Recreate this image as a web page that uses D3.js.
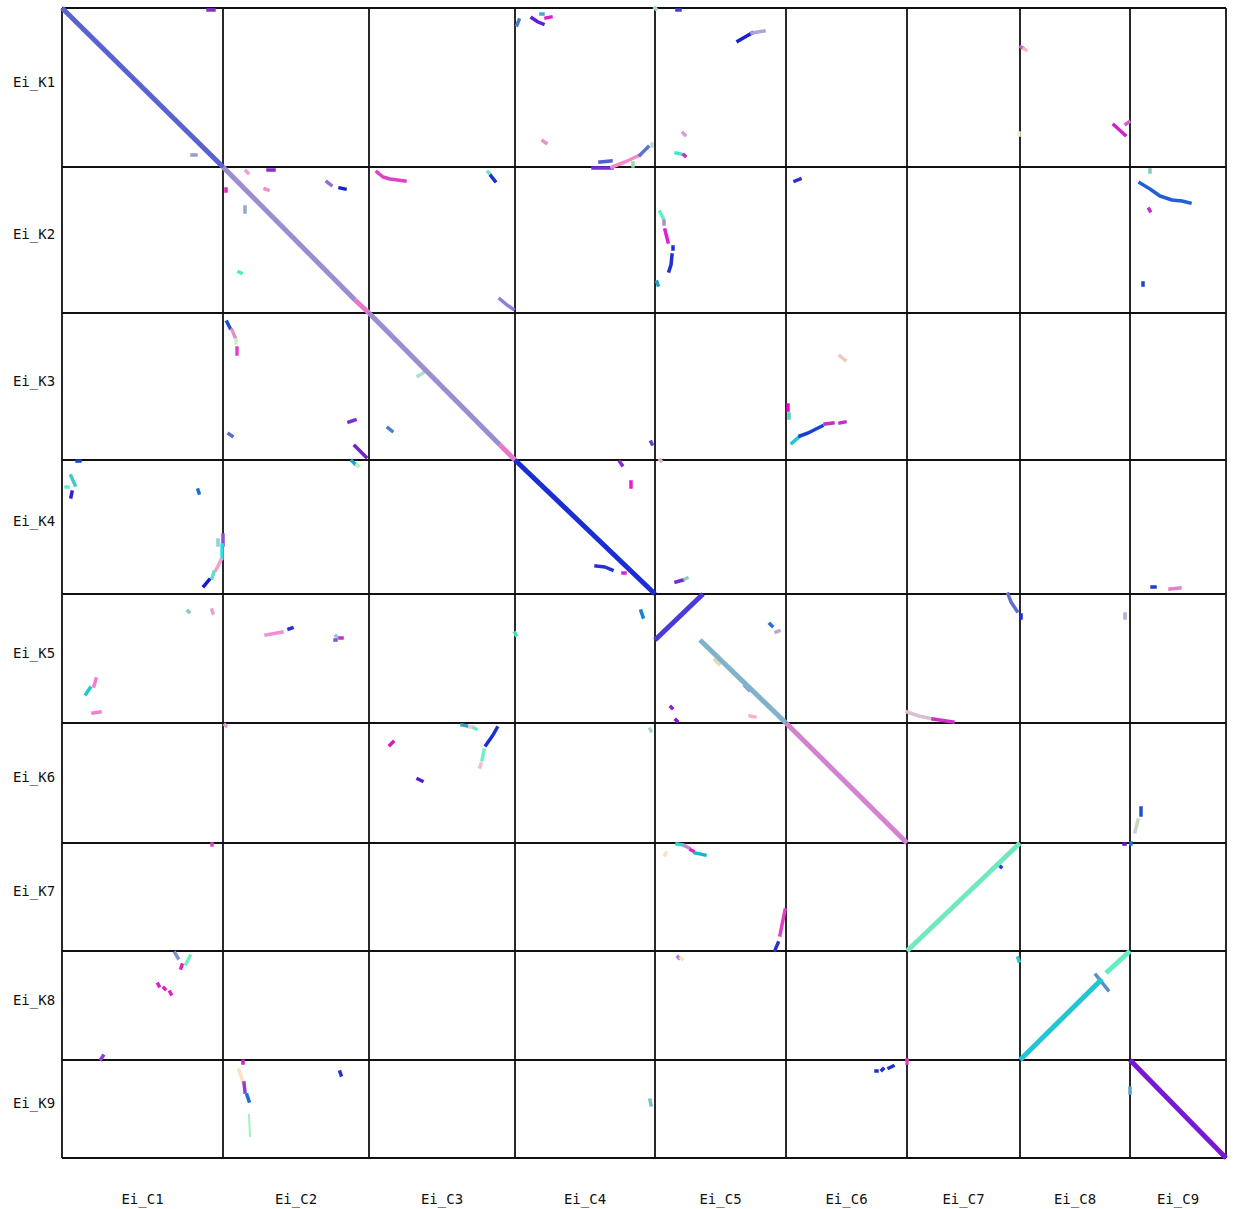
<!DOCTYPE html>
<html>
<head>
<meta charset="utf-8">
<script src="https://cdn.jsdelivr.net/npm/d3@7"></script>
<style>
  body { margin: 0; background: #fff; }
  text { font-family: "DejaVu Sans Mono", monospace; font-size: 14px; fill: #111; }
</style>
</head>
<body>
<script>
var w = 1236;
var h = 1209;

// chromosome names and lengths (units of 200 kb)
var colNames = ["Ei_C1","Ei_C2","Ei_C3","Ei_C4","Ei_C5","Ei_C6","Ei_C7","Ei_C8","Ei_C9"];
var colLen   = [161, 146, 146, 140, 131, 121, 113, 110, 96];
var rowNames = ["Ei_K1","Ei_K2","Ei_K3","Ei_K4","Ei_K5","Ei_K6","Ei_K7","Ei_K8","Ei_K9"];
var rowLen   = [159, 146, 147, 134, 129, 120, 108, 109, 98];

// main syntenic blocks: [col, row, colour, points (x, y) in chromosome units]
var mainBlocks = [
  ["Ei_C1","Ei_K1","#5a62d0",[[0,0],[161,159]]],
  ["Ei_C2","Ei_K2","#9c8cd2",[[0,0],[132,133]]],
  ["Ei_C2","Ei_K2","#e878c8",[[132,133],[146,146]]],
  ["Ei_C3","Ei_K3","#9c8cd2",[[0,0],[131,132]]],
  ["Ei_C3","Ei_K3","#e878c8",[[131,132],[146,147]]],
  ["Ei_C4","Ei_K4","#1a2ed6",[[0,0],[140,134]]],
  ["Ei_C5","Ei_K5","#4a3ad8",[[0,46],[48,0]]],
  ["Ei_C5","Ei_K5","#80b2cc",[[45,46],[131,129]]],
  ["Ei_C6","Ei_K6","#d282d0",[[0,0],[121,120]]],
  ["Ei_C7","Ei_K7","#72e8c2",[[0,108],[113,0]]],
  ["Ei_C8","Ei_K8","#22c4d6",[[0,109],[82,28]]],
  ["Ei_C8","Ei_K8","#62eec2",[[86,22],[110,0]]],
  ["Ei_C9","Ei_K9","#7818d6",[[0,0],[96,98]]]
];

// smaller hits
var hits = [
  // K1
  ["Ei_C1","Ei_K1","#8a30c8",[[146,2],[152,2]]],
  ["Ei_C1","Ei_K1","#9898d0",[[130,147],[134,147]]],
  ["Ei_C4","Ei_K1","#4a78c8",[[2,17],[4,12]]],
  ["Ei_C4","Ei_K1","#5a20d0",[[17,10],[23,14],[28,16]]],
  ["Ei_C4","Ei_K1","#e020c8",[[31,10],[36,9]]],
  ["Ei_C4","Ei_K1","#40a8d0",[[26,6],[28,6]]],
  ["Ei_C4","Ei_K1","#f090c8",[[28,133],[31,135]]],
  ["Ei_C4","Ei_K1","#7030d8",[[78,160],[97,160]]],
  ["Ei_C4","Ei_K1","#5060d0",[[85,154],[96,153]]],
  ["Ei_C4","Ei_K1","#f488c8",[[97,159],[110,154],[125,147]]],
  ["Ei_C4","Ei_K1","#5a74d0",[[125,147],[133,139]]],
  ["Ei_C4","Ei_K1","#90e0b0",[[118,155],[118,158]]],
  ["Ei_C4","Ei_K1","#b8dcd0",[[137,136],[137,138]]],
  ["Ei_C5","Ei_K1","#a8d8c8",[[0,0],[1,1]]],
  ["Ei_C5","Ei_K1","#4040d0",[[22,2],[25,2]]],
  ["Ei_C5","Ei_K1","#1a20d0",[[83,33],[90,29],[97,25]]],
  ["Ei_C5","Ei_K1","#b0a0d8",[[97,25],[109,23]]],
  ["Ei_C5","Ei_K1","#d8a0d8",[[28,125],[30,127]]],
  ["Ei_C5","Ei_K1","#40e8c0",[[21,145],[26,146]]],
  ["Ei_C5","Ei_K1","#c030c8",[[29,147],[30,148]]],
  ["Ei_C8","Ei_K1","#c060d0",[[1,39],[3,40]]],
  ["Ei_C8","Ei_K1","#f0b8c0",[[4,41],[6,42]]],
  ["Ei_C7","Ei_K1","#e0f8c0",[[112,125],[112,127]]],
  ["Ei_C8","Ei_K1","#d020c8",[[94,117],[105,127]]],
  ["Ei_C8","Ei_K1","#d060d0",[[106,116],[109,114]]],
  // K2
  ["Ei_C2","Ei_K2","#f0a0d0",[[23,4],[25,6]]],
  ["Ei_C2","Ei_K2","#8030d0",[[45,3],[51,3]]],
  ["Ei_C2","Ei_K2","#f020c0",[[3,22],[3,24]]],
  ["Ei_C2","Ei_K2","#f090c8",[[42,22],[45,23]]],
  ["Ei_C2","Ei_K2","#90a8d0",[[22,40],[22,45]]],
  ["Ei_C2","Ei_K2","#40f0c0",[[16,105],[18,106]]],
  ["Ei_C2","Ei_K2","#9070d0",[[104,15],[108,18]]],
  ["Ei_C2","Ei_K2","#1a20c8",[[117,21],[122,22]]],
  ["Ei_C2","Ei_K2","#e020c8",[[127,128],[128,129]]],
  ["Ei_C3","Ei_K2","#e040c8",[[8,5],[14,10],[21,12],[36,14]]],
  ["Ei_C3","Ei_K2","#70e8c8",[[119,5],[121,7]]],
  ["Ei_C3","Ei_K2","#1a30d0",[[122,9],[126,14]]],
  ["Ei_C3","Ei_K2","#8a80d8",[[131,132],[138,138],[144,142]]],
  ["Ei_C5","Ei_K2","#60f0c0",[[5,45],[8,51]]],
  ["Ei_C5","Ei_K2","#a890d0",[[9,54],[9,57]]],
  ["Ei_C5","Ei_K2","#e020c8",[[10,63],[13,75]]],
  ["Ei_C5","Ei_K2","#2030d0",[[18,80],[18,82]]],
  ["Ei_C5","Ei_K2","#2030d0",[[17,88],[16,98],[14,104]]],
  ["Ei_C5","Ei_K2","#20a0c8",[[2,115],[3,118]]],
  ["Ei_C6","Ei_K2","#2a30d0",[[9,14],[14,12]]],
  ["Ei_C9","Ei_K2","#80c8c0",[[20,3],[20,5]]],
  ["Ei_C9","Ei_K2","#2060d0",[[10,16],[20,22],[30,29],[42,33],[52,34],[60,36]]],
  ["Ei_C9","Ei_K2","#c030c8",[[19,42],[20,44]]],
  ["Ei_C9","Ei_K2","#2040d0",[[13,116],[13,118]]],
  // K3
  ["Ei_C2","Ei_K3","#1a50d0",[[4,9],[7,15]]],
  ["Ei_C2","Ei_K3","#e090c8",[[9,17],[12,24]]],
  ["Ei_C2","Ei_K3","#c8f0c0",[[13,27],[13,30]]],
  ["Ei_C2","Ei_K3","#e040c8",[[14,35],[14,41]]],
  ["Ei_C2","Ei_K3","#5a70c8",[[6,121],[9,123]]],
  ["Ei_C2","Ei_K3","#7a30d0",[[126,109],[132,107]]],
  ["Ei_C2","Ei_K3","#7020c8",[[132,133],[143,144]]],
  ["Ei_C3","Ei_K3","#4a80c8",[[19,115],[23,118]]],
  ["Ei_C3","Ei_K3","#a8e0c8",[[49,63],[51,62]]],
  ["Ei_C3","Ei_K3","#a8e0c8",[[54,60],[57,57]]],
  ["Ei_C4","Ei_K3","#6a40c8",[[136,129],[137,131]]],
  ["Ei_C6","Ei_K3","#f0c8c0",[[54,43],[59,47]]],
  ["Ei_C6","Ei_K3","#f000c0",[[2,92],[2,97]]],
  ["Ei_C6","Ei_K3","#50d0c8",[[3,101],[3,105]]],
  ["Ei_C6","Ei_K3","#20c8d0",[[6,130],[14,123]]],
  ["Ei_C6","Ei_K3","#1a40d8",[[14,123],[22,120],[36,113]]],
  ["Ei_C6","Ei_K3","#c030c8",[[39,111],[47,110]]],
  ["Ei_C6","Ei_K3","#c030c8",[[54,110],[59,109]]],
  // K4
  ["Ei_C1","Ei_K4","#1a40d0",[[15,1],[18,1]]],
  ["Ei_C1","Ei_K4","#40c8c8",[[9,16],[13,25]]],
  ["Ei_C1","Ei_K4","#60f0d0",[[4,27],[6,27]]],
  ["Ei_C1","Ei_K4","#3020d0",[[10,32],[9,37]]],
  ["Ei_C1","Ei_K4","#1a70d0",[[136,30],[137,33]]],
  ["Ei_C1","Ei_K4","#8a50d8",[[161,75],[161,85]]],
  ["Ei_C1","Ei_K4","#30e0e0",[[160,85],[160,98]]],
  ["Ei_C1","Ei_K4","#f0a0d0",[[159,100],[154,110]]],
  ["Ei_C1","Ei_K4","#60e0c0",[[152,112],[150,118]]],
  ["Ei_C1","Ei_K4","#1a18d0",[[147,120],[142,126]]],
  ["Ei_C1","Ei_K4","#90d0d0",[[156,80],[156,85]]],
  ["Ei_C2","Ei_K4","#20a0d0",[[129,1],[132,4]]],
  ["Ei_C2","Ei_K4","#b8f0c0",[[134,5],[135,6]]],
  ["Ei_C4","Ei_K4","#a070d0",[[52,49],[56,53]]],
  ["Ei_C4","Ei_K4","#8a30c8",[[105,2],[107,5]]],
  ["Ei_C4","Ei_K4","#e020c8",[[116,22],[116,27]]],
  ["Ei_C4","Ei_K4","#2a30d0",[[81,106],[90,107],[97,110]]],
  ["Ei_C4","Ei_K4","#e020c8",[[108,113],[110,113]]],
  ["Ei_C5","Ei_K4","#7030d8",[[21,122],[28,120]]],
  ["Ei_C5","Ei_K4","#90c8c8",[[30,119],[32,118]]],
  ["Ei_C5","Ei_K4","#e8b0c8",[[5,0],[6,1]]],
  ["Ei_C9","Ei_K4","#2040d0",[[22,127],[25,127]]],
  ["Ei_C9","Ei_K4","#e080d0",[[40,129],[50,128]]],
  // K5
  ["Ei_C1","Ei_K5","#90c8c8",[[126,17],[127,18]]],
  ["Ei_C1","Ei_K5","#e8a0d0",[[150,16],[151,19]]],
  ["Ei_C1","Ei_K5","#f080d0",[[34,85],[32,92]]],
  ["Ei_C1","Ei_K5","#20c8d0",[[28,94],[24,100]]],
  ["Ei_C1","Ei_K5","#f080d0",[[31,119],[38,118]]],
  ["Ei_C2","Ei_K5","#f090d0",[[43,41],[59,38]]],
  ["Ei_C2","Ei_K5","#2a30d0",[[66,35],[69,34]]],
  ["Ei_C2","Ei_K5","#80d0d0",[[113,42],[114,43]]],
  ["Ei_C2","Ei_K5","#c030c8",[[117,44],[119,44]]],
  ["Ei_C2","Ei_K5","#8a50d0",[[112,46],[113,46]]],
  ["Ei_C4","Ei_K5","#40e0c0",[[0,39],[1,41]]],
  ["Ei_C4","Ei_K5","#1a80d0",[[126,17],[128,23]]],
  ["Ei_C5","Ei_K5","#e0d8b8",[[60,66],[64,70]]],
  ["Ei_C5","Ei_K5","#9a90d0",[[90,92],[94,96]]],
  ["Ei_C5","Ei_K5","#3070d0",[[115,30],[117,32]]],
  ["Ei_C5","Ei_K5","#b8a8d8",[[121,38],[124,37]]],
  ["Ei_C5","Ei_K5","#8a20c8",[[16,113],[17,114]]],
  ["Ei_C5","Ei_K5","#8a10c8",[[21,126],[22,127]]],
  ["Ei_C5","Ei_K5","#ffb0c8",[[95,122],[100,123]]],
  ["Ei_C7","Ei_K5","#d8c0d0",[[0,118],[12,122],[26,125]]],
  ["Ei_C7","Ei_K5","#d030c8",[[26,125],[46,128]]],
  ["Ei_C7","Ei_K5","#6070c8",[[101,0],[104,8],[110,17]]],
  ["Ei_C8","Ei_K5","#1a30d8",[[1,21],[1,24]]],
  ["Ei_C8","Ei_K5","#b0b0d0",[[105,20],[105,24]]],
  // K6
  ["Ei_C2","Ei_K6","#e0a0d0",[[2,2],[3,3]]],
  ["Ei_C3","Ei_K6","#d020c0",[[21,22],[24,19]]],
  ["Ei_C3","Ei_K6","#5020d0",[[49,56],[53,58]]],
  ["Ei_C3","Ei_K6","#40a0c0",[[93,2],[98,3]]],
  ["Ei_C3","Ei_K6","#f0c8c8",[[101,4],[104,4]]],
  ["Ei_C3","Ei_K6","#70e8c0",[[105,5],[107,6]]],
  ["Ei_C3","Ei_K6","#1a30d0",[[128,5],[124,12],[117,22]]],
  ["Ei_C3","Ei_K6","#70f0c8",[[115,27],[113,37]]],
  ["Ei_C3","Ei_K6","#ffb8c8",[[112,41],[111,44]]],
  ["Ei_C4","Ei_K6","#a8d8c0",[[135,6],[136,8]]],
  ["Ei_C9","Ei_K6","#2050d0",[[11,85],[11,92]]],
  ["Ei_C9","Ei_K6","#c8d4c0",[[8,97],[5,109]]],
  // K7
  ["Ei_C1","Ei_K7","#e040c8",[[150,1],[150,2]]],
  ["Ei_C5","Ei_K7","#40d0d0",[[22,1],[28,2]]],
  ["Ei_C5","Ei_K7","#d080d0",[[30,3],[34,5]]],
  ["Ei_C5","Ei_K7","#e020c8",[[36,7],[38,8]]],
  ["Ei_C5","Ei_K7","#10b8d0",[[40,10],[50,12]]],
  ["Ei_C5","Ei_K7","#ffe0b0",[[10,12],[11,10]]],
  ["Ei_C5","Ei_K7","#e040c8",[[130,67],[128,77],[125,92]]],
  ["Ei_C5","Ei_K7","#3030d0",[[123,100],[120,107]]],
  ["Ei_C7","Ei_K7","#2040d0",[[93,23],[94,24]]],
  ["Ei_C8","Ei_K7","#6010c8",[[104,1],[105,1]]],
  ["Ei_C9","Ei_K7","#2070d0",[[1,0],[1,1]]],
  // K8
  ["Ei_C1","Ei_K8","#8090d0",[[113,2],[116,7]]],
  ["Ei_C1","Ei_K8","#70f0c0",[[128,5],[124,13]]],
  ["Ei_C1","Ei_K8","#e020c8",[[120,14],[119,17]]],
  ["Ei_C1","Ei_K8","#e020c8",[[96,33],[97,35]]],
  ["Ei_C1","Ei_K8","#e020c8",[[102,37],[103,38]]],
  ["Ei_C1","Ei_K8","#e020c8",[[108,41],[109,43]]],
  ["Ei_C1","Ei_K8","#9040d0",[[39,108],[41,105]]],
  ["Ei_C5","Ei_K8","#a080d0",[[23,6],[24,7]]],
  ["Ei_C5","Ei_K8","#ffe0c0",[[26,7],[27,8]]],
  ["Ei_C7","Ei_K8","#30c0d0",[[111,7],[112,10]]],
  ["Ei_C8","Ei_K8","#5a8ec8",[[76,24],[88,39]]],
  // K9
  ["Ei_C2","Ei_K9","#d020c8",[[20,1],[20,3]]],
  ["Ei_C2","Ei_K9","#ffe0b8",[[16,10],[20,22]]],
  ["Ei_C2","Ei_K9","#9040d0",[[21,23],[22,32]]],
  ["Ei_C2","Ei_K9","#2070d0",[[24,35],[26,41]]],
  ["Ei_C2","Ei_K9","#a0f0c0",[[26,55],[27,76]]],
  ["Ei_C2","Ei_K9","#2a30d0",[[117,12],[118,15]]],
  ["Ei_C4","Ei_K9","#80c0c0",[[135,40],[136,45]]],
  ["Ei_C6","Ei_K9","#2030d0",[[90,11],[91,11]]],
  ["Ei_C6","Ei_K9","#2030d0",[[96,10],[97,9]]],
  ["Ei_C6","Ei_K9","#2030d0",[[103,8],[107,6]]],
  ["Ei_C7","Ei_K9","#f040c0",[[0,0],[0,3]]],
  ["Ei_C9","Ei_K9","#60a0d0",[[0,28],[0,33]]]
];

var svg = d3.select("body").append("svg")
  .attr("width", w)
  .attr("height", h)
  .style("background-color", "white");

var colStart = [0].concat(Array.from(d3.cumsum(colLen)));
var rowStart = [0].concat(Array.from(d3.cumsum(rowLen)));

var xScale = d3.scaleLinear()
  .domain([0, d3.sum(colLen)])
  .range([62, 1226]);
var yScale = d3.scaleLinear()
  .domain([0, d3.sum(rowLen)])
  .range([8, 1158]);

// grid
svg.append("g").selectAll("line")
  .data(colStart)
  .join("line")
  .attr("x1", function(d){ return xScale(d); })
  .attr("x2", function(d){ return xScale(d); })
  .attr("y1", yScale(0))
  .attr("y2", yScale(d3.sum(rowLen)))
  .attr("stroke", "#111")
  .attr("stroke-width", 1.8);

svg.append("g").selectAll("line")
  .data(rowStart)
  .join("line")
  .attr("y1", function(d){ return yScale(d); })
  .attr("y2", function(d){ return yScale(d); })
  .attr("x1", xScale(0))
  .attr("x2", xScale(d3.sum(colLen)))
  .attr("stroke", "#111")
  .attr("stroke-width", 1.8);

// turn chromosome-local points into page positions
var line = d3.line();
function path(d){
  var ci = colNames.indexOf(d[0]);
  var ri = rowNames.indexOf(d[1]);
  return line(d[3].map(function(p){
    return [xScale(colStart[ci] + p[0]), yScale(rowStart[ri] + p[1])];
  }));
}

svg.append("g").selectAll("path")
  .data(hits)
  .join("path")
  .attr("d", path)
  .attr("fill", "none")
  .attr("stroke", function(d){ return d[2]; })
  .attr("stroke-width", function(d){ return d[2] == "#a0f0c0" ? 2 : 3.5; })
  .attr("stroke-linecap", "square")
  .attr("stroke-linejoin", "round");

svg.append("g").selectAll("path")
  .data(mainBlocks)
  .join("path")
  .attr("d", path)
  .attr("fill", "none")
  .attr("stroke", function(d){ return d[2]; })
  .attr("stroke-width", 5)
  .attr("stroke-linecap", "butt");

// labels
svg.append("g").selectAll("text")
  .data(rowNames)
  .join("text")
  .attr("x", 34)
  .attr("y", function(d, i){ return yScale(rowStart[i] + rowLen[i] / 2) - 6; })
  .attr("text-anchor", "middle")
  .attr("dominant-baseline", "central")
  .text(function(d){ return d; });

svg.append("g").selectAll("text")
  .data(colNames)
  .join("text")
  .attr("x", function(d, i){ return xScale(colStart[i] + colLen[i] / 2); })
  .attr("y", 1204)
  .attr("text-anchor", "middle")
  .text(function(d){ return d; });
</script>
</body>
</html>
